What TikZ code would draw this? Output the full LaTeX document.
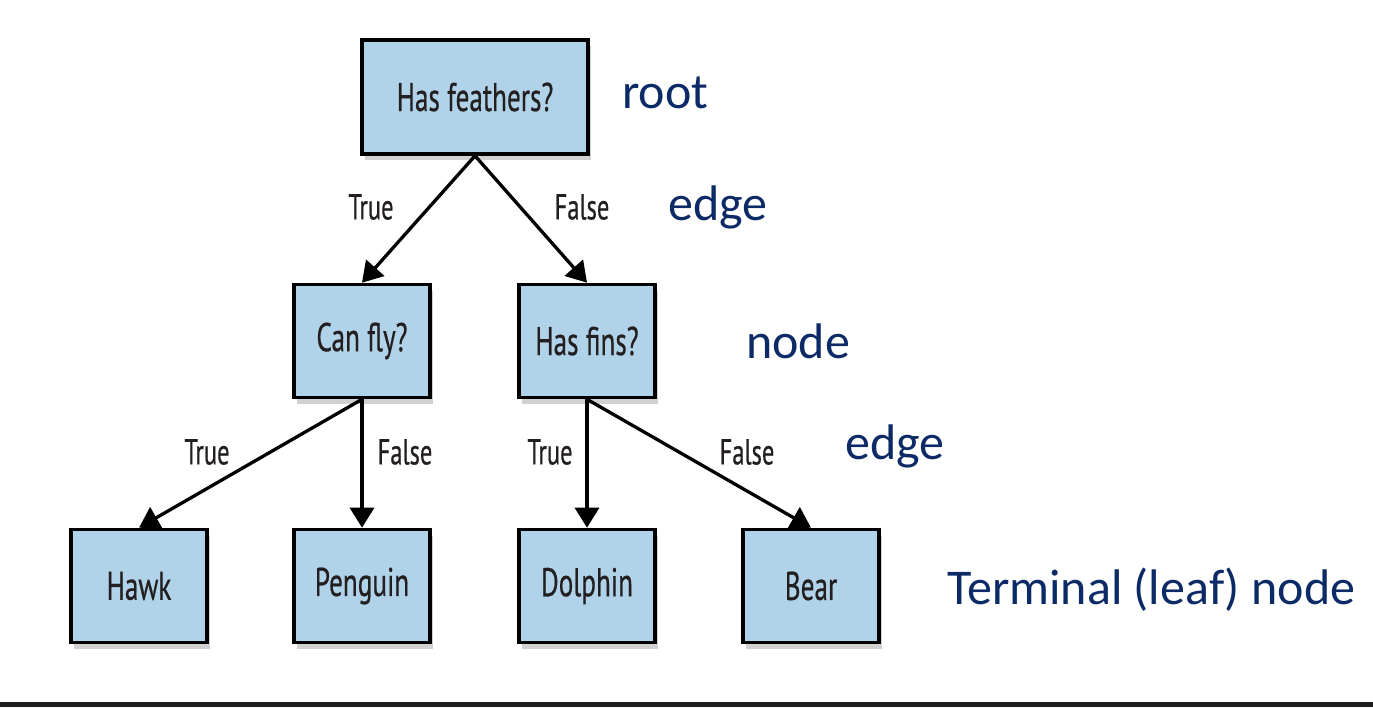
\documentclass[tikz,border=0pt]{standalone}
\usepackage{fontspec}
\setmainfont{Carlito}
\newfontfamily\boxfont[FakeBold=0.6]{PT Sans}
\usetikzlibrary{arrows.meta,shadows}
\definecolor{boxblue}{HTML}{B1D3EA}
\definecolor{navy}{HTML}{0B2A66}
\definecolor{inkblack}{HTML}{231F20}
\definecolor{barcol}{HTML}{1E1E1E}
\newcommand{\cond}[1]{\scalebox{0.68}[1]{#1}}
\tikzset{
  treebox/.style={draw=black, line width=3.6pt, fill=boxblue, rectangle,
    minimum width=#1, inner sep=0pt, text=inkblack,
    font=\boxfont\fontsize{40}{44}\selectfont,
    drop shadow={shadow xshift=3pt, shadow yshift=-6pt, fill=black!45, opacity=0.4}},
  treebox/.default=136pt,
  conn/.style={line width=3.3pt, draw=black, -{Triangle[width=24pt,length=20pt]}},
  edgelabel/.style={text=inkblack, font=\boxfont\fontsize{36}{40}\selectfont, inner sep=0pt},
  annot/.style={text=navy, font=\fontsize{50}{56}\selectfont, inner sep=0pt, anchor=west}
}
\begin{document}
\begin{tikzpicture}[x=1pt,y=-1pt]
\useasboundingbox (0,0) rectangle (1373,707);
\fill[white] (0,0) rectangle (1373,707);
\fill[barcol] (0,702) rectangle (1373,707);

\node[treebox=226pt, minimum height=114pt] (root) at (475,97) {\cond{Has feathers?}};
\node[treebox, minimum height=113pt] (canfly) at (362,341) {\cond{Can fly?}};
\node[treebox, minimum height=113pt] (hasfins) at (587,341) {\cond{Has fins?}};
\node[treebox, minimum height=113pt] (hawk) at (139,586) {\cond{Hawk}};
\node[treebox, minimum height=113pt] (penguin) at (362,586) {\cond{Penguin}};
\node[treebox, minimum height=113pt] (dolphin) at (587,586) {\cond{Dolphin}};
\node[treebox, minimum height=113pt] (bear) at (811,586) {\cond{Bear}};

\draw[conn] (root.south) -- (canfly.north);
\draw[conn] (root.south) -- (hasfins.north);
\draw[conn] (canfly.south) -- (hawk.north);
\draw[conn] (canfly.south) -- (penguin.north);
\draw[conn] (hasfins.south) -- (dolphin.north);
\draw[conn] (hasfins.south) -- (bear.north);

\node[edgelabel] (l1) at (371,207) {\cond{True}};
\node[edgelabel] (l2) at (582,207) {\cond{False}};
\node[edgelabel] (l3) at (207,452) {\cond{True}};
\node[edgelabel] (l4) at (405,452) {\cond{False}};
\node[edgelabel] (l5) at (550,452) {\cond{True}};
\node[edgelabel] (l6) at (747,452) {\cond{False}};

\node[annot] (aroot) at (622,93) {root};
\node[annot] (aedge1) at (668,207) {edge};
\node[annot] (anode) at (746,341) {node};
\node[annot] (aedge2) at (845,446) {edge};
\node[annot] (aleaf) at (947,590) {Terminal (leaf) node};
\end{tikzpicture}
\end{document}
